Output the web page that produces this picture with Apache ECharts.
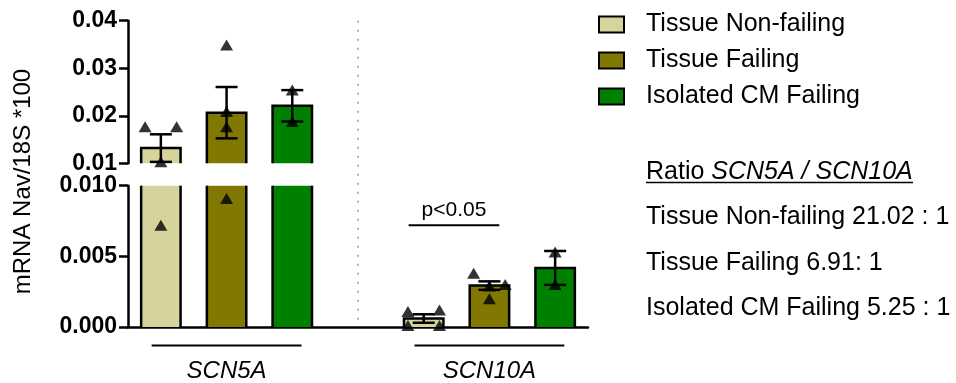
<!DOCTYPE html>
<html><head><meta charset="utf-8">
<script src="https://cdn.jsdelivr.net/npm/echarts@6/dist/echarts.min.js"></script>
<style>html,body{margin:0;padding:0;background:#fff}#c{width:956px;height:383px}</style>
</head><body><div id="c"></div>
<script>
// ---------- data ----------
const categories = ['SCN5A', 'SCN10A'];
const seriesNames = ['Tissue Non-failing', 'Tissue Failing', 'Isolated CM Failing'];
const meanNonFailing = [0.0132, 0.0006];
const meanFailing = [0.02065, 0.00293];
const meanCM = [0.0221, 0.00418];
const semNonFailing = [0.0029, 0.0003];
const semFailing = [0.0054, 0.0003];
const semCM = [0.0033, 0.0012];
// individual samples per category: [value, jitter slot (-1 left, 0 centre, 1 right)]
const pointsNonFailing = [[[0.0177, -1], [0.0177, 1], [0.0103, 0], [0.0072, 0]],
                          [[0.0011, -1], [0.0012, 1], [0.0001, -1], [0.0001, 1]]];
const pointsFailing = [[[0.0349, 0], [0.0209, 0], [0.0177, 0], [0.0091, 0]],
                       [[0.0038, -1], [0.0030, 1], [0.0029, 0], [0.0020, 0]]];
const pointsCM = [[[0.0254, 0], [0.0188, 0]],
                  [[0.0053, 0], [0.0030, 0]]];
const upperTickLabels = ['0.01', '0.02', '0.03', '0.04'];
const lowerTickLabels = ['0.000', '0.005', '0.010'];
const yAxisTitle = 'mRNA Nav/18S *100';
const significanceText = 'p<0.05';
const ratioTitlePlain = 'Ratio ';
const ratioTitleItalic = 'SCN5A / SCN10A';
const ratioLines = ['Tissue Non-failing 21.02 : 1', 'Tissue Failing 6.91: 1', 'Isolated CM Failing 5.25 : 1'];

// ---------- styling / layout ----------
const colors = ['#d6d49c', '#807800', '#008000'];
const FONT = '"Liberation Sans", Arial, Helvetica, sans-serif';
const upperMin = +upperTickLabels[0], upperMax = +upperTickLabels[upperTickLabels.length - 1], upperStep = +upperTickLabels[1] - +upperTickLabels[0];
const lowerMin = +lowerTickLabels[0], lowerMax = +lowerTickLabels[lowerTickLabels.length - 1], lowerStep = +lowerTickLabels[1] - +lowerTickLabels[0];
const means = [meanNonFailing, meanFailing, meanCM];
const sems = [semNonFailing, semFailing, semCM];
const points = [pointsNonFailing, pointsFailing, pointsCM];
const slotsPerGroup = 4;           // 3 bars + 1 spacer
const xMax = slotsPerGroup * categories.length - 1;
const jitterUnits = 0.24;
function xPos(g, s) { return g * slotsPerGroup + s + 0.5; }
function groupCenter(g) { return g * slotsPerGroup + 1.5; }

const LW = 2.5;
function range(gi) { return gi === 0 ? [upperMin, upperMax] : [lowerMin, lowerMax]; }

function barSeries(si, gi) {
  return {
    type: 'custom', name: seriesNames[si], xAxisIndex: gi, yAxisIndex: gi, z: 2,
    itemStyle: { color: colors[si], borderColor: '#000', borderWidth: 2 },
    data: means[si].map((m, g) => [xPos(g, si), m]),
    renderItem(params, api) {
      const x = api.value(0), v = api.value(1);
      const [lo, hi] = range(gi);
      if (v <= lo) return null;
      const top = Math.min(v, hi);
      const p0 = api.coord([x, lo]), p1 = api.coord([x, top]);
      const w = api.size([1, 0])[0] * 0.6;
      const xl = p0[0] - w / 2, xr = p0[0] + w / 2;
      const children = [{ type: 'rect', shape: { x: xl, y: p1[1], width: w, height: p0[1] - p1[1] }, style: { fill: colors[si] } }];
      const ls = { stroke: '#000', lineWidth: LW, fill: null };
      if (v <= hi) {
        children.push({ type: 'polyline', shape: { points: [[xl, p0[1]], [xl, p1[1]], [xr, p1[1]], [xr, p0[1]]] }, style: ls });
      } else {
        children.push({ type: 'line', shape: { x1: xl, y1: p0[1], x2: xl, y2: p1[1] }, style: ls });
        children.push({ type: 'line', shape: { x1: xr, y1: p0[1], x2: xr, y2: p1[1] }, style: ls });
      }
      return { type: 'group', children };
    }
  };
}

function errSeries(si, gi) {
  return {
    type: 'custom', name: seriesNames[si], xAxisIndex: gi, yAxisIndex: gi, z: 3, silent: true,
    data: means[si].map((m, g) => [xPos(g, si), m, sems[si][g]]),
    renderItem(params, api) {
      const x = api.value(0), m = api.value(1), s = api.value(2);
      const [lo, hi] = range(gi);
      if (gi === 0 ? m < upperMin : m >= upperMin) return null;
      const a = api.coord([x, Math.max(m - s, lo)]), b = api.coord([x, Math.min(m + s, hi)]);
      const hw = 11;
      const ls = { stroke: '#000', lineWidth: LW };
      return { type: 'group', children: [
        { type: 'line', shape: { x1: a[0], y1: a[1], x2: b[0], y2: b[1] }, style: ls },
        { type: 'line', shape: { x1: a[0] - hw, y1: a[1], x2: a[0] + hw, y2: a[1] }, style: ls },
        { type: 'line', shape: { x1: b[0] - hw, y1: b[1], x2: b[0] + hw, y2: b[1] }, style: ls }
      ] };
    }
  };
}

function pointSeries(si, gi) {
  const data = [];
  points[si].forEach((arr, g) => arr.forEach(([v, j]) => {
    if (gi === 0 ? v >= upperMin : v < upperMin) data.push([xPos(g, si) + j * jitterUnits, v]);
  }));
  return {
    type: 'scatter', name: seriesNames[si], xAxisIndex: gi, yAxisIndex: gi, z: 4, silent: true,
    symbol: 'triangle', symbolSize: [13, 11], itemStyle: { color: '#000' }, data
  };
}

const series = [];
for (let si = 0; si < 3; si++) for (let gi = 0; gi < 2; gi++) series.push(barSeries(si, gi));
for (let si = 0; si < 3; si++) for (let gi = 0; gi < 2; gi++) series.push(errSeries(si, gi));
for (let si = 0; si < 3; si++) for (let gi = 0; gi < 2; gi++) series.push(pointSeries(si, gi));

// significance bracket (custom, in the lower grid)
series.push({
  type: 'custom', xAxisIndex: 1, yAxisIndex: 1, z: 5, silent: true,
  data: [[xPos(1, 0), xPos(1, 1)]],
  renderItem(params, api) {
    const a = api.coord([api.value(0) - 0.23, 0.0072]);
    const b = api.coord([api.value(1) + 0.15, 0.0072]);
    return { type: 'group', children: [
      { type: 'line', shape: { x1: a[0], y1: a[1], x2: b[0], y2: b[1] }, style: { stroke: '#000', lineWidth: 1.8 } },
      { type: 'text', style: { text: significanceText, x: (a[0] + b[0]) / 2, y: a[1] - 5, align: 'center', verticalAlign: 'bottom', fontSize: 21, fontFamily: FONT, fill: '#000' } }
    ] };
  }
});

const tickStyle = { show: true, length: 9, lineStyle: { color: '#000', width: LW } };
const axisLineStyle = { show: true, lineStyle: { color: '#000', width: LW } };
const yLabel = (dec) => ({ fontSize: 23, fontWeight: 'bold', color: '#000', fontFamily: FONT, margin: 11, formatter: v => v.toFixed(dec) });

const option = {
  animation: false,
  backgroundColor: '#fff',
  grid: [
    { left: 128, right: 368, top: 20.7, height: 142.6 },
    { left: 128, right: 368, top: 185.7, height: 142.6 }
  ],
  xAxis: [
    { type: 'value', gridIndex: 0, min: 0, max: xMax, show: false },
    { type: 'value', gridIndex: 1, min: 0, max: xMax, interval: 0.5,
      axisLine: axisLineStyle, axisTick: { show: false }, splitLine: { show: false },
      axisLabel: { fontSize: 24, fontStyle: 'italic', color: '#000', fontFamily: FONT, margin: 32,
        formatter: v => { for (let g = 0; g < categories.length; g++) if (Math.abs(v - groupCenter(g)) < 1e-6) return categories[g]; return ''; } } }
  ],
  yAxis: [
    { type: 'value', gridIndex: 0, min: upperMin, max: upperMax, interval: upperStep,
      axisLine: axisLineStyle, axisTick: tickStyle, splitLine: { show: false }, axisLabel: yLabel(2) },
    { type: 'value', gridIndex: 1, min: lowerMin, max: lowerMax, interval: lowerStep,
      axisLine: axisLineStyle, axisTick: tickStyle, splitLine: { show: false }, axisLabel: yLabel(3) }
  ],
  legend: {
    orient: 'vertical', left: 593, top: 7, itemWidth: 25, itemHeight: 16, itemGap: 11, icon: 'rect',
    textStyle: { fontSize: 25, color: '#000', fontFamily: FONT, padding: [0, 0, 0, 17] },
    data: seriesNames.map((n, i) => ({ name: n, itemStyle: { color: colors[i], borderColor: '#000', borderWidth: 2 } }))
  },
  series
};

const chart = echarts.init(document.getElementById('c'), null, { renderer: 'canvas' });
chart.setOption(option);

// decorations positioned via the axes
const topDiv = chart.convertToPixel({ gridIndex: 0 }, [slotsPerGroup - 0.5, upperMax]);
const botDiv = chart.convertToPixel({ gridIndex: 1 }, [slotsPerGroup - 0.5, lowerMin]);
const graphic = [
  { type: 'line', z: 1, shape: { x1: topDiv[0], y1: topDiv[1], x2: botDiv[0], y2: botDiv[1] }, style: { stroke: '#999', lineWidth: 1.5, lineDash: [2, 7] } },
  { type: 'text', x: 23, y: 181.5, rotation: Math.PI / 2, style: { text: yAxisTitle, fontSize: 24, fontFamily: FONT, fill: '#000', align: 'center', verticalAlign: 'middle' } }
];
categories.forEach((c, g) => {
  const a = chart.convertToPixel({ gridIndex: 1 }, [groupCenter(g) - 1.14, lowerMin]);
  const b = chart.convertToPixel({ gridIndex: 1 }, [groupCenter(g) + 1.14, lowerMin]);
  graphic.push({ type: 'line', shape: { x1: a[0], y1: a[1] + 18.5, x2: b[0], y2: b[1] + 18.5 }, style: { stroke: '#000', lineWidth: 2 } });
});
graphic.push({ type: 'text', x: 646, y: 171.7, style: { text: ratioTitlePlain + '{i|' + ratioTitleItalic + '}', fontSize: 25, fontFamily: FONT, fill: '#000', verticalAlign: 'middle',
  rich: { i: { fontSize: 25, fontStyle: 'italic', fontFamily: FONT, fill: '#000' } } } });
graphic.push({ type: 'line', shape: { x1: 646, y1: 182.5, x2: 913, y2: 182.5 }, style: { stroke: '#000', lineWidth: 1.5 } });
const ratioY = [216.7, 263, 308];
ratioLines.forEach((t, i) => graphic.push({ type: 'text', x: 646, y: ratioY[i], style: { text: t, fontSize: 25, fontFamily: FONT, fill: '#000', verticalAlign: 'middle' } }));
chart.setOption({ graphic });
</script></body></html>
